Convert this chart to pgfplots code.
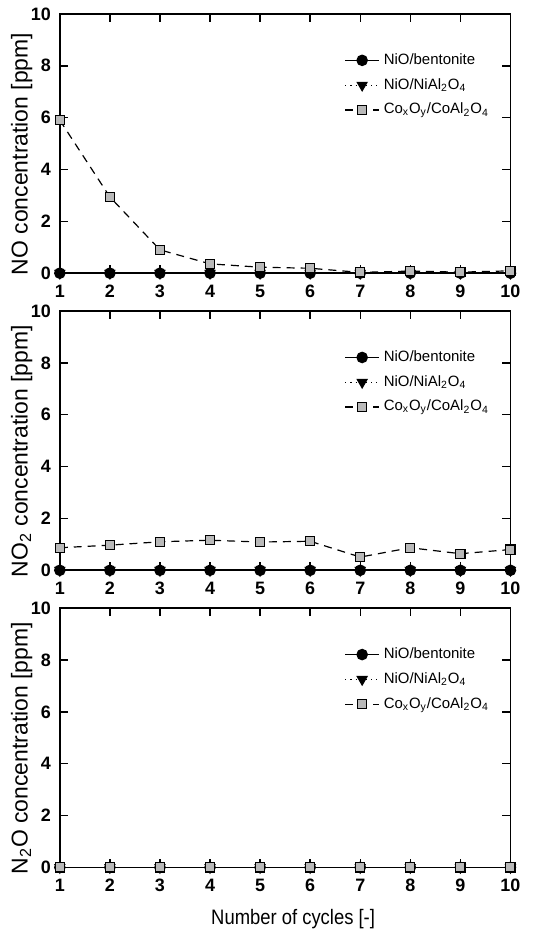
\documentclass[border=0pt]{standalone}
\usepackage{fontspec}
\setmainfont{Liberation Sans}
\newfontfamily\condensed[FakeStretch=0.88]{Liberation Sans}
\usepackage{pgfplots}
\usepackage{pgfplotstable}
\pgfplotsset{compat=1.18}
\usepgfplotslibrary{groupplots}

% cycle, NiO/bentonite, NiO/NiAl2O4, CoxOy/CoAl2O4
\pgfplotstableread{
cyc bent nial coal
1  0 0 5.90
2  0 0 2.94
3  0 0 0.90
4  0 0 0.36
5  0 0 0.23
6  0 0 0.19
7  0 0 0.03
8  0 0 0.08
9  0 0 0.04
10 0 0 0.09
}\nodata

\pgfplotstableread{
cyc bent nial coal
1  0 0 0.87
2  0 0 0.97
3  0 0 1.10
4  0 0 1.16
5  0 0 1.09
6  0 0 1.12
7  0 0 0.51
8  0 0 0.87
9  0 0 0.64
10 0 0 0.80
}\notwodata

\pgfplotstableread{
cyc bent nial coal
1  0 0 0
2  0 0 0
3  0 0 0
4  0 0 0
5  0 0 0
6  0 0 0
7  0 0 0
8  0 0 0
9  0 0 0
10 0 0 0
}\ntwoodata

\pgfplotsset{
  bentstyle/.style={black, line width=0.6pt, mark=*, mark size=2.6pt},
  nialstyle/.style={black, line width=0.6pt, dotted, mark=triangle*, mark size=2.8pt, mark options={solid, rotate=180}},
  coalstyle/.style={black, line width=0.6pt, dash pattern=on 4pt off 3pt, mark=square*, mark size=2.3pt, mark options={solid, fill=gray!55, draw=black}},
}

\begin{document}
\begin{tikzpicture}
\begin{groupplot}[
  group style={group size=1 by 3, vertical sep=19pt},
  scale only axis, width=226pt, height=130pt,
  xmin=1, xmax=10, ymin=0, ymax=10,
  xtick={1,...,10}, ytick={0,2,...,10},
  axis line style={line width=0.9pt},
  major tick style={line width=0.7pt, black},
  major tick length=4pt,
  tick label style={font=\fontsize{9}{10}\selectfont\bfseries},
  xticklabel style={yshift=-2.5pt},
  yticklabel style={xshift=-1pt},
  /pgf/number format/assume math mode=true,
  ylabel style={font=\fontsize{11.5}{13}\selectfont, at={(axis description cs:-0.06,0.46)},
    anchor=south, inner sep=0pt},
  clip=false,
  legend style={draw=none, fill=none, at={(0.975,0.88)}, anchor=north east,
    font=\fontsize{7.5}{9}\selectfont, row sep=1.5pt},
  legend cell align=left,
]
\nextgroupplot[ylabel={NO concentration [ppm]}]
\addplot[bentstyle] table[x=cyc, y=bent]{\nodata};
\addlegendentry{NiO/bentonite}
\addplot[nialstyle] table[x=cyc, y=nial]{\nodata};
\addlegendentry{NiO/NiAl\textsubscript{2}O\textsubscript{4}}
\addplot[coalstyle] table[x=cyc, y=coal]{\nodata};
\addlegendentry{Co\textsubscript{x}O\textsubscript{y}/CoAl\textsubscript{2}O\textsubscript{4}}

\nextgroupplot[ylabel={NO\textsubscript{2} concentration [ppm]}]
\addplot[bentstyle] table[x=cyc, y=bent]{\notwodata};
\addlegendentry{NiO/bentonite}
\addplot[nialstyle] table[x=cyc, y=nial]{\notwodata};
\addlegendentry{NiO/NiAl\textsubscript{2}O\textsubscript{4}}
\addplot[coalstyle] table[x=cyc, y=coal]{\notwodata};
\addlegendentry{Co\textsubscript{x}O\textsubscript{y}/CoAl\textsubscript{2}O\textsubscript{4}}

\nextgroupplot[ylabel={N\textsubscript{2}O concentration [ppm]},
  xlabel={Number of cycles [-]},
  xlabel style={font=\condensed\fontsize{10.5}{12}\selectfont, xshift=4pt, yshift=-1.5pt}]
\addplot[bentstyle] table[x=cyc, y=bent]{\ntwoodata};
\addlegendentry{NiO/bentonite}
\addplot[nialstyle] table[x=cyc, y=nial]{\ntwoodata};
\addlegendentry{NiO/NiAl\textsubscript{2}O\textsubscript{4}}
\addplot[coalstyle] table[x=cyc, y=coal]{\ntwoodata};
\addlegendentry{Co\textsubscript{x}O\textsubscript{y}/CoAl\textsubscript{2}O\textsubscript{4}}
\end{groupplot}
% keep the page at the reference's proportions
\path (group c1r1.north west) ++(-30pt,7pt) rectangle ++(270pt,-467.5pt);
\end{tikzpicture}
\end{document}
